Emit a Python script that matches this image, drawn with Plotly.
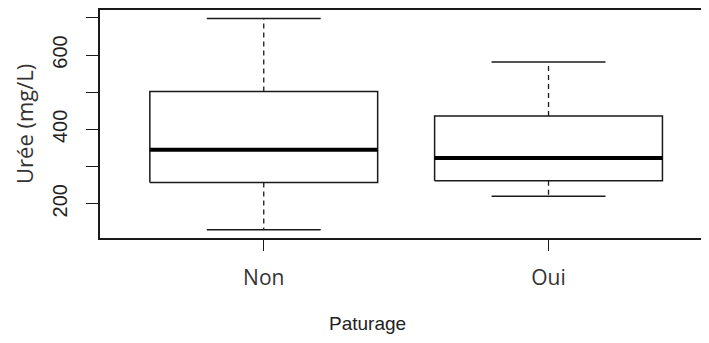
"""Boxplot of urea concentration by grazing (R base-graphics look)."""

import plotly.graph_objects as go

# Five-number summaries
categories = ["Non", "Oui"]
lower_whisker = [130, 220]
q1 = [257, 262]
median = [345, 323]
q3 = [502, 436]
upper_whisker = [698, 581]

y_ticks = [200, 300, 400, 500, 600, 700]
y_tick_labels = ["200", "", "400", "", "600", ""]

LINE = "#1a1a1a"
HALF_BOX = 0.4
HALF_STAPLE = 0.2

fig = go.Figure()

for i, name in enumerate(categories):
    c = i + 1
    # box
    fig.add_trace(
        go.Scatter(
            x=[c - HALF_BOX, c + HALF_BOX, c + HALF_BOX, c - HALF_BOX, c - HALF_BOX],
            y=[q1[i], q1[i], q3[i], q3[i], q1[i]],
            mode="lines",
            line=dict(color=LINE, width=1.5),
            fill="toself",
            fillcolor="white",
            hoverinfo="skip",
        )
    )
    # dashed whiskers
    fig.add_trace(
        go.Scatter(
            x=[c, c, None, c, c],
            y=[q3[i], upper_whisker[i], None, q1[i], lower_whisker[i]],
            mode="lines",
            line=dict(color=LINE, width=1.3, dash="5px,4px"),
            hoverinfo="skip",
        )
    )
    # staples
    fig.add_trace(
        go.Scatter(
            x=[c - HALF_STAPLE, c + HALF_STAPLE, None, c - HALF_STAPLE, c + HALF_STAPLE],
            y=[upper_whisker[i], upper_whisker[i], None, lower_whisker[i], lower_whisker[i]],
            mode="lines",
            line=dict(color=LINE, width=1.5),
            hoverinfo="skip",
        )
    )
    # median
    fig.add_trace(
        go.Scatter(
            x=[c - HALF_BOX, c + HALF_BOX],
            y=[median[i], median[i]],
            mode="lines",
            line=dict(color="black", width=4),
            name=name,
        )
    )

fig.update_xaxes(
    range=[0.425, 2.56],
    tickvals=[1, 2],
    ticktext=categories,
    ticks="outside",
    ticklen=11,
    tickwidth=1.3,
    tickcolor=LINE,
    ticklabelstandoff=9,
    tickfont=dict(family="Open Sans", size=21, color="#333"),
    showline=True,
    linecolor=LINE,
    linewidth=1.5,
    mirror=True,
    showgrid=False,
    zeroline=False,
)
fig.update_yaxes(
    range=[108, 721],
    tickvals=y_ticks,
    ticktext=y_tick_labels,
    tickangle=-90,
    ticks="outside",
    ticklen=12,
    tickwidth=1.3,
    tickcolor=LINE,
    ticklabelstandoff=11,
    tickfont=dict(family="Liberation Sans", size=20, color="#222"),
    showline=True,
    linecolor=LINE,
    linewidth=1.5,
    mirror=True,
    showgrid=False,
    zeroline=False,
)

fig.add_annotation(
    text="Paturage",
    xref="paper", yref="paper",
    x=0.44, y=-0.375,
    xanchor="center", yanchor="middle",
    showarrow=False,
    font=dict(family="Liberation Sans", size=19, color="#222"),
)
fig.add_annotation(
    text="Urée (mg/L)",
    xref="paper", yref="paper",
    x=-0.125, y=0.5,
    xanchor="center", yanchor="middle",
    textangle=-90,
    showarrow=False,
    font=dict(family="Open Sans", size=22, color="#333"),
)

fig.update_layout(
    width=709,
    height=343,
    showlegend=False,
    plot_bgcolor="white",
    paper_bgcolor="white",
    margin=dict(l=92, r=9, t=0, b=113),
)

fig.write_html("out.html")
